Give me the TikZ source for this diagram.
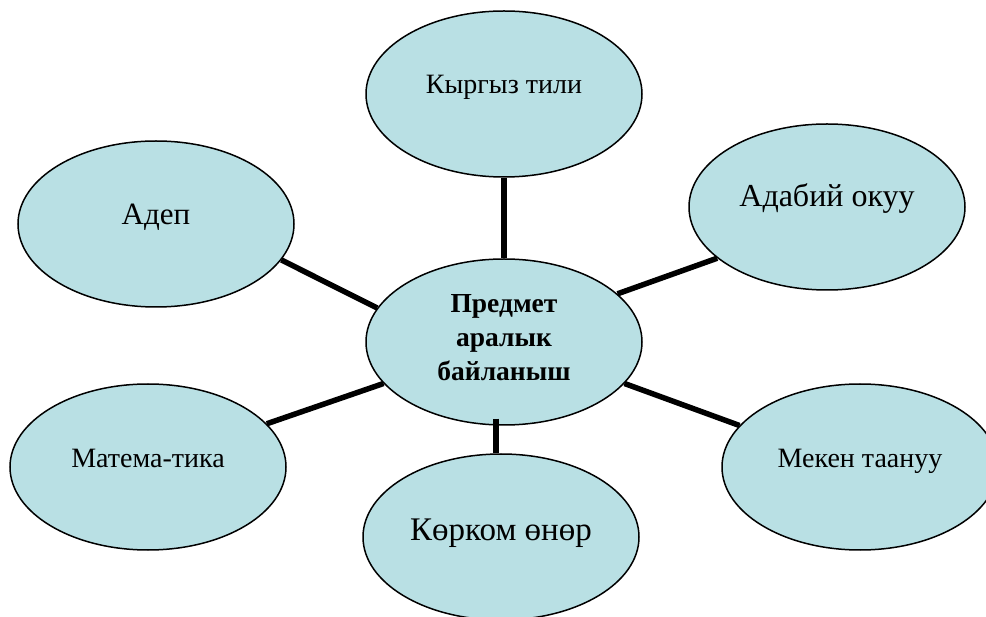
\documentclass[tikz,border=0pt]{standalone}
\usepackage{fontspec}
\setmainfont{Liberation Serif}
\usetikzlibrary{shapes.geometric}
\definecolor{ellfill}{RGB}{185,224,228}
\tikzset{
  ell/.style={ellipse, draw=black, line width=1.5pt, fill=ellfill, inner sep=0pt,
              minimum width=276pt, minimum height=166pt},
  lbl/.style={anchor=base, inner sep=0pt, align=center},
  conn/.style={line width=5.5pt, black}
}
\begin{document}
\begin{tikzpicture}[x=1pt,y=-1pt]
\useasboundingbox (0,0) rectangle (986,617);
\node[ell] (ky)  at (504,94)  {};
\node[ell] (mid) at (504,342) {};
\node[ell] (adep) at (156,224) {};
\node[ell] (adab) at (827,207) {};
\node[ell] (mat) at (148,467) {};
\node[ell] (mek) at (860,467) {};
\node[ell] (kor) at (501,537) {};

\node[lbl, font=\fontsize{28}{32}\selectfont] (kyt) at (504,94) {Кыргыз тили};
\node[lbl, font=\fontsize{31}{36}\selectfont] (adept) at (156,225) {Адеп};
\node[lbl, font=\fontsize{32}{36}\selectfont] (adabt) at (827,207) {Адабий окуу};
\node[lbl, font=\fontsize{28}{32}\selectfont] (matt) at (148,468) {Матема-тика};
\node[lbl, font=\fontsize{28}{32}\selectfont] (mekt) at (860,468) {Мекен таануу};
\node[lbl, font=\fontsize{33}{38}\selectfont] (kort) at (501,540) {Көрком өнөр};
\node[lbl, font=\bfseries\fontsize{27.5}{34}\selectfont, anchor=north] (midt) at (504,294) {Предмет\\аралык\\байланыш};

\draw[conn] (mid.north) -- (ky.south);
\draw[conn] (adep.-16) -- (mid.165);
\draw[conn] (mid.23) -- (adab.-155);
\draw[conn] (mat.20) -- (mid.-161);
\draw[conn] (mid.-19) -- (mek.161);
\draw[conn] ([xshift=-8pt,yshift=7pt]mid.south) -- ([xshift=-5pt]kor.north);
\end{tikzpicture}
\end{document}
